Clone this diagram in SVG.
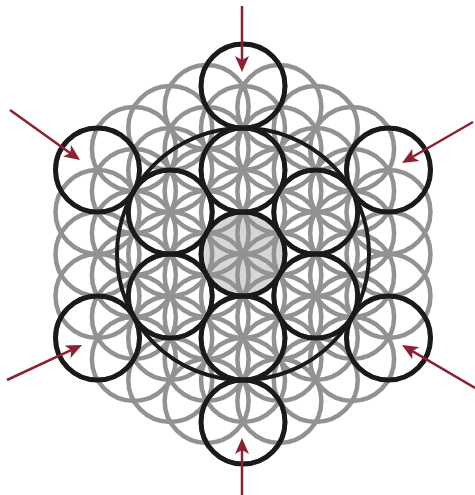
<svg xmlns="http://www.w3.org/2000/svg" width="475" height="495" viewBox="0 0 475 495">
<style>
.g{fill:none;stroke:#929292;stroke-width:4.5}
.b{fill:none;stroke:#1a1a1a;stroke-width:5}
.big{fill:none;stroke:#1a1a1a;stroke-width:4}
.a{fill:none;stroke:#8b2232;stroke-width:2.5}
</style>
<defs>
<marker id="ah" viewBox="0 0 16 14" refX="8" refY="7" markerWidth="16" markerHeight="14" markerUnits="userSpaceOnUse" orient="auto">
<path d="M0,0 L16,7 L0,14 L4,7 Z" fill="#8b2232"/>
</marker>
</defs>
<rect width="475" height="495" fill="#fff"/>
<g id="center-fill"><circle cx="243" cy="254" r="42" fill="#d6d6d6"/></g>
<g id="lattice">
<circle class="g" cx="97.51" cy="338" r="42"/><circle class="g" cx="97.51" cy="296" r="42"/><circle class="g" cx="97.51" cy="254" r="42"/><circle class="g" cx="97.51" cy="212" r="42"/><circle class="g" cx="97.51" cy="170" r="42"/>
<circle class="g" cx="133.88" cy="359" r="42"/><circle class="g" cx="133.88" cy="317" r="42"/><circle class="g" cx="133.88" cy="275" r="42"/><circle class="g" cx="133.88" cy="233" r="42"/><circle class="g" cx="133.88" cy="191" r="42"/><circle class="g" cx="133.88" cy="149" r="42"/>
<circle class="g" cx="170.25" cy="380" r="42"/><circle class="g" cx="170.25" cy="338" r="42"/><circle class="g" cx="170.25" cy="296" r="42"/><circle class="g" cx="170.25" cy="254" r="42"/><circle class="g" cx="170.25" cy="212" r="42"/><circle class="g" cx="170.25" cy="170" r="42"/><circle class="g" cx="170.25" cy="128" r="42"/>
<circle class="g" cx="206.63" cy="401" r="42"/><circle class="g" cx="206.63" cy="359" r="42"/><circle class="g" cx="206.63" cy="317" r="42"/><circle class="g" cx="206.63" cy="275" r="42"/><circle class="g" cx="206.63" cy="233" r="42"/><circle class="g" cx="206.63" cy="191" r="42"/><circle class="g" cx="206.63" cy="149" r="42"/><circle class="g" cx="206.63" cy="107" r="42"/>
<circle class="g" cx="243" cy="422" r="42"/><circle class="g" cx="243" cy="380" r="42"/><circle class="g" cx="243" cy="338" r="42"/><circle class="g" cx="243" cy="296" r="42"/><circle class="g" cx="243" cy="254" r="42"/><circle class="g" cx="243" cy="212" r="42"/><circle class="g" cx="243" cy="170" r="42"/><circle class="g" cx="243" cy="128" r="42"/><circle class="g" cx="243" cy="86" r="42"/>
<circle class="g" cx="279.37" cy="401" r="42"/><circle class="g" cx="279.37" cy="359" r="42"/><circle class="g" cx="279.37" cy="317" r="42"/><circle class="g" cx="279.37" cy="275" r="42"/><circle class="g" cx="279.37" cy="233" r="42"/><circle class="g" cx="279.37" cy="191" r="42"/><circle class="g" cx="279.37" cy="149" r="42"/><circle class="g" cx="279.37" cy="107" r="42"/>
<circle class="g" cx="315.75" cy="380" r="42"/><circle class="g" cx="315.75" cy="338" r="42"/><circle class="g" cx="315.75" cy="296" r="42"/><circle class="g" cx="315.75" cy="254" r="42"/><circle class="g" cx="315.75" cy="212" r="42"/><circle class="g" cx="315.75" cy="170" r="42"/><circle class="g" cx="315.75" cy="128" r="42"/>
<circle class="g" cx="352.12" cy="359" r="42"/><circle class="g" cx="352.12" cy="317" r="42"/><circle class="g" cx="352.12" cy="275" r="42"/><circle class="g" cx="352.12" cy="233" r="42"/><circle class="g" cx="352.12" cy="191" r="42"/><circle class="g" cx="352.12" cy="149" r="42"/>
<circle class="g" cx="388.49" cy="338" r="42"/><circle class="g" cx="388.49" cy="296" r="42"/><circle class="g" cx="388.49" cy="254" r="42"/><circle class="g" cx="388.49" cy="212" r="42"/><circle class="g" cx="388.49" cy="170" r="42"/>
</g>
<g id="outer-ring"><circle class="big" cx="243" cy="254" r="126"/></g>
<g id="fruit">
<circle class="b" cx="243" cy="254" r="42"/>
<circle class="b" cx="243" cy="170" r="42"/>
<circle class="b" cx="315.75" cy="212" r="42"/>
<circle class="b" cx="315.75" cy="296" r="42"/>
<circle class="b" cx="243" cy="338" r="42"/>
<circle class="b" cx="170.25" cy="296" r="42"/>
<circle class="b" cx="170.25" cy="212" r="42"/>
<circle class="b" cx="243" cy="86" r="42"/>
<circle class="b" cx="388.49" cy="170" r="42"/>
<circle class="b" cx="388.49" cy="338" r="42"/>
<circle class="b" cx="243" cy="422" r="42"/>
<circle class="b" cx="97.51" cy="338" r="42"/>
<circle class="b" cx="97.51" cy="170" r="42"/>
</g>
<g id="arrows">
<line class="a" x1="242" y1="6" x2="242" y2="64" marker-end="url(#ah)"/>
<line class="a" x1="242" y1="495" x2="242" y2="446" marker-end="url(#ah)"/>
<line class="a" x1="10" y1="110" x2="73.5" y2="155.4" marker-end="url(#ah)"/>
<line class="a" x1="7" y1="380" x2="74.8" y2="348.4" marker-end="url(#ah)"/>
<line class="a" x1="473" y1="122" x2="408.9" y2="159" marker-end="url(#ah)"/>
<line class="a" x1="475" y1="388" x2="408.9" y2="349.1" marker-end="url(#ah)"/>
</g>
</svg>
